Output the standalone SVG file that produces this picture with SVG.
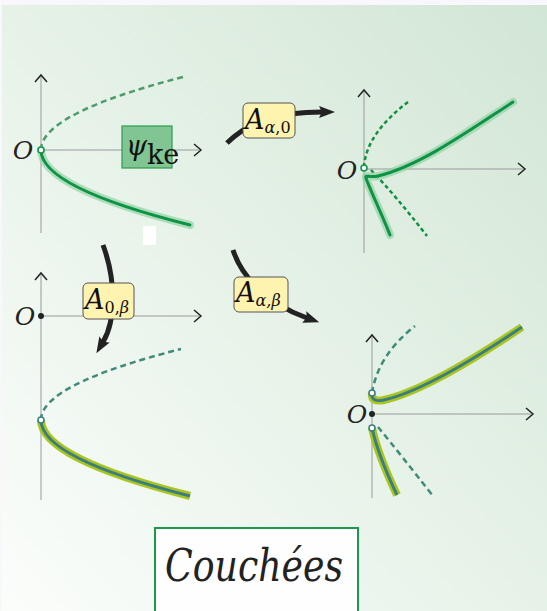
<svg xmlns="http://www.w3.org/2000/svg" width="547" height="611" viewBox="0 0 547 611">
<defs>
<linearGradient id="bg" x1="0" y1="1" x2="1" y2="0">
<stop offset="0" stop-color="#fbfdfb"/>
<stop offset="0.5" stop-color="#e6f2e8"/>
<stop offset="1" stop-color="#d2e6d5"/>
</linearGradient>
<marker id="ah" viewBox="0 0 16 12" refX="3" refY="6" markerWidth="16" markerHeight="12" markerUnits="userSpaceOnUse" orient="auto">
<path d="M0,0 L16,6 L0,12 Q4,6 0,0 Z" fill="#222"/>
</marker>
</defs>
<style>
.axis{stroke:#9a9a9a;stroke-width:1;fill:none}
.chev{stroke:#222;stroke-width:1.5;fill:none}
.halo{stroke:#96d2a6;stroke-width:8;fill:none;stroke-linecap:round;opacity:0.7}
.sg{stroke:#0c9444;stroke-width:3;fill:none;stroke-linecap:round}
.dg1{stroke:#4f9b6c;stroke-width:2.5;fill:none;stroke-dasharray:6 4}
.dg2{stroke:#0e9140;stroke-width:2.5;fill:none;stroke-dasharray:4 3}
.dt{stroke:#3f8a7a;stroke-width:2.5;fill:none;stroke-dasharray:6 4}
.yo{stroke:#a9c61e;stroke-width:8;fill:none}
.tc{stroke:#3b7d82;stroke-width:3;fill:none}
.lbl{font-family:'DejaVu Serif','Liberation Serif',serif;font-style:italic;font-size:25px;fill:#222}
.abox{fill:#fff3b0;stroke:#555;stroke-width:1}
.at{font-family:'DejaVu Serif','Liberation Serif',serif;font-size:27px;fill:#111}
.conn{stroke:#222;stroke-width:5;fill:none;marker-end:url(#ah)}
</style>
<rect x="0" y="0" width="547" height="611" fill="#f8f8fc"/>
<rect x="2" y="5" width="545" height="606" fill="url(#bg)"/>

<g id="connectors">
<path class="conn" d="M227,143 C250,120 280,112 322,112"/>
<path class="conn" d="M103,245 C116,280 116,320 103,342"/>
<path class="conn" d="M233,250 C240,272 262,302 307,318"/>
</g>

<g id="panel1">
<line class="axis" x1="41" y1="76" x2="41" y2="233"/>
<line class="axis" x1="41" y1="150" x2="199" y2="150"/>
<path class="chev" d="M35,82 L41,75 L47,82"/>
<path class="chev" d="M194,144 L201,150 L194,156"/>
<text class="lbl" x="23" y="159" text-anchor="middle">O</text>
<path class="dg1" d="M41,150 Q41,113.5 183,77"/>
<path class="halo" d="M41,150 Q41,187.5 190,225"/>
<path class="sg" d="M41,150 Q41,187.5 190,225"/>
<circle cx="41" cy="150" r="3" fill="#fff" stroke="#0c9444" stroke-width="1.5"/>
<rect x="143" y="226" width="13" height="19" fill="#fff"/>
</g>

<g id="psi-ke">
<rect x="122" y="126" width="50" height="42" fill="#80c592" stroke="#2a9d50" stroke-width="1.2"/>
<text class="at" x="126" y="155" font-style="italic" font-size="30">ψ</text>
<text class="at" x="147" y="164" font-size="18">ke</text>
</g>

<g id="panel2">
<line class="axis" x1="364" y1="91" x2="364" y2="253"/>
<line class="axis" x1="364" y1="169" x2="523" y2="169"/>
<path class="chev" d="M358,97 L364,90 L370,97"/>
<path class="chev" d="M518,163 L525,169 L518,175"/>
<text class="lbl" x="347" y="179" text-anchor="middle">O</text>
<path class="dg2" d="M364,167 Q366,134 408,102"/>
<path class="dg2" d="M371,170 Q396,196 427,236"/>
<path class="halo" d="M390,235 C383,217 368,185 366,178 C365,174 368,178 378,176 C420,166 470,130 513,102"/>
<path class="sg" d="M390,235 C383,217 368,185 366,178 C365,174 368,178 378,176 C420,166 470,130 513,102"/>
<circle cx="364" cy="168" r="3" fill="#fff" stroke="#0c9444" stroke-width="1.5"/>
</g>

<g id="A-alpha-0">
<rect class="abox" x="243" y="103" width="52" height="35" rx="5"/>
<text class="at" x="245" y="129" font-style="italic">A<tspan font-size="16" dy="4">α</tspan><tspan font-size="16" font-style="normal">,0</tspan></text>
</g>

<g id="panel3">
<line class="axis" x1="41" y1="274" x2="41" y2="500"/>
<line class="axis" x1="41" y1="316" x2="199" y2="316"/>
<path class="chev" d="M35,280 L41,273 L47,280"/>
<path class="chev" d="M194,310 L201,316 L194,322"/>
<text class="lbl" x="25" y="325" text-anchor="middle">O</text>
<circle cx="41" cy="316" r="3" fill="#222"/>
<path class="dt" d="M41,420 Q41,384.5 181,349"/>
<path class="yo" d="M41,420 Q41,458 190,496"/>
<path class="tc" d="M41,420 Q41,458 190,496"/>
<circle cx="41" cy="420" r="3" fill="#fff" stroke="#3b7d82" stroke-width="1.5"/>
</g>

<g id="A-0-beta">
<rect class="abox" x="83" y="283" width="51" height="36" rx="5"/>
<text class="at" x="85" y="309" font-style="italic">A<tspan font-size="16" dy="4" font-style="normal">0,</tspan><tspan font-size="16" font-style="italic">β</tspan></text>
</g>

<g id="panel4">
<line class="axis" x1="372" y1="336" x2="372" y2="498"/>
<line class="axis" x1="372" y1="414" x2="531" y2="414"/>
<path class="chev" d="M366,342 L372,335 L378,342"/>
<path class="chev" d="M526,408 L533,414 L526,420"/>
<text class="lbl" x="357" y="423" text-anchor="middle">O</text>
<circle cx="372" cy="414" r="3" fill="#222"/>
<path class="dt" d="M372,393 Q378,355 415,326"/>
<path class="dt" d="M378,427 Q401,455 433,496"/>
<path class="yo" d="M372,393 C371,399 375,402 384,400 C420,392 470,362 522,327"/>
<path class="tc" d="M372,393 C371,399 375,402 384,400 C420,392 470,362 522,327"/>
<path class="yo" d="M372,428 Q378,455 397,495"/>
<path class="tc" d="M372,428 Q378,455 397,495"/>
<circle cx="372" cy="393" r="3" fill="#fff" stroke="#3b7d82" stroke-width="1.5"/>
<circle cx="372" cy="428" r="3" fill="#fff" stroke="#3b7d82" stroke-width="1.5"/>
</g>

<g id="A-alpha-beta">
<rect class="abox" x="234" y="277" width="54" height="35" rx="5"/>
<text class="at" x="236" y="302" font-style="italic">A<tspan font-size="16" dy="4">α,β</tspan></text>
</g>

<g id="couchees">
<rect x="155" y="528" width="203" height="90" fill="#fdfefd" stroke="#1a9a4a" stroke-width="2"/>
<text x="254" y="581" text-anchor="middle" font-family="'DejaVu Serif','Liberation Serif',serif" font-style="italic" font-size="44" fill="#222" textLength="178" lengthAdjust="spacingAndGlyphs">Couchées</text>
</g>
</svg>
